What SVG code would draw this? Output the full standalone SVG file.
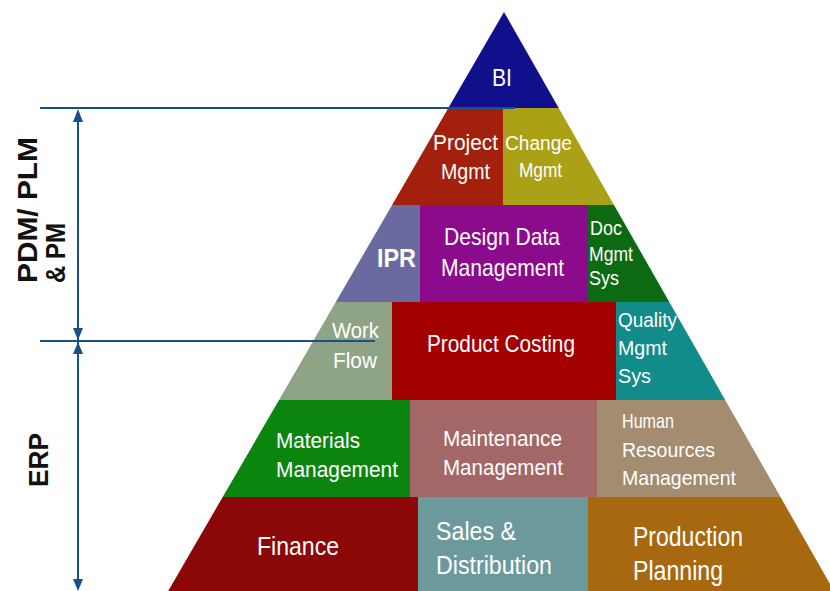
<svg xmlns="http://www.w3.org/2000/svg" width="830" height="591" viewBox="0 0 830 591">
<style>
.t{font-family:"Liberation Sans Narrow","Liberation Sans",Arial,sans-serif;fill:#ffffff;}
.lbl{font-family:"Liberation Sans","Arial",sans-serif;font-weight:bold;fill:#111111;}
.dim{stroke:#1b4f8a;stroke-width:2;fill:none;}
.ah{fill:#1b4f8a;}
</style>
<rect width="830" height="591" fill="#ffffff"/>
<g id="bi"><polygon points="504,12 558.7,108 448.3,108" fill="#10108c"/><text class="t" x="492" y="86" font-size="23" textLength="20" lengthAdjust="spacingAndGlyphs">BI</text></g>
<g id="project-mgmt"><polygon points="448.3,108 503,108 503,205 392.1,205" fill="#a3200c"/><text class="t" font-size="22"><tspan x="433" y="150" textLength="65" lengthAdjust="spacingAndGlyphs">Project</tspan><tspan x="441" y="179" textLength="49" lengthAdjust="spacingAndGlyphs">Mgmt</tspan></text></g>
<g id="change-mgmt"><polygon points="503,108 558.7,108 614,205 503,205" fill="#aba116"/><text class="t" font-size="20"><tspan x="505" y="150" textLength="67" lengthAdjust="spacingAndGlyphs">Change</tspan><tspan x="519" y="177" textLength="43" lengthAdjust="spacingAndGlyphs">Mgmt</tspan></text></g>
<g id="ipr"><polygon points="392.1,205 420,205 420,302 335.8,302" fill="#6a6aa0"/><text class="t" x="377" y="267" font-size="26" font-weight="bold" textLength="39" lengthAdjust="spacingAndGlyphs">IPR</text></g>
<g id="design-data"><rect x="420" y="205" width="168" height="97" fill="#8c0a8c"/><text class="t" font-size="24"><tspan x="444" y="245" textLength="116" lengthAdjust="spacingAndGlyphs">Design Data</tspan><tspan x="441" y="276" textLength="123" lengthAdjust="spacingAndGlyphs">Management</tspan></text></g>
<g id="doc-mgmt"><polygon points="588,205 614,205 669.3,302 588,302" fill="#0b6a12"/><text class="t" font-size="21"><tspan x="590" y="235" textLength="32" lengthAdjust="spacingAndGlyphs">Doc</tspan><tspan x="589" y="261" textLength="44" lengthAdjust="spacingAndGlyphs">Mgmt</tspan><tspan x="589" y="285" textLength="30" lengthAdjust="spacingAndGlyphs">Sys</tspan></text></g>
<g id="work-flow"><polygon points="335.8,302 392,302 392,400 279,400" fill="#8fa386"/><text class="t" font-size="22"><tspan x="332" y="338" textLength="47" lengthAdjust="spacingAndGlyphs">Work</tspan><tspan x="333" y="368" textLength="44" lengthAdjust="spacingAndGlyphs">Flow</tspan></text></g>
<g id="product-costing"><rect x="392" y="302" width="224" height="98" fill="#a30000"/><text class="t" x="427" y="352" font-size="24" textLength="148" lengthAdjust="spacingAndGlyphs">Product Costing</text></g>
<g id="quality-mgmt"><polygon points="616,302 669.3,302 725.2,400 616,400" fill="#128b8b"/><text class="t" font-size="21"><tspan x="618" y="327" textLength="59" lengthAdjust="spacingAndGlyphs">Quality</tspan><tspan x="618" y="355" textLength="49" lengthAdjust="spacingAndGlyphs">Mgmt</tspan><tspan x="618" y="383" textLength="33" lengthAdjust="spacingAndGlyphs">Sys</tspan></text></g>
<g id="materials"><polygon points="279,400 410,400 410,497 222.7,497" fill="#0c850f"/><text class="t" font-size="22"><tspan x="276" y="448" textLength="84" lengthAdjust="spacingAndGlyphs">Materials</tspan><tspan x="276" y="477" textLength="122" lengthAdjust="spacingAndGlyphs">Management</tspan></text></g>
<g id="maintenance"><rect x="410" y="400" width="187" height="97" fill="#a36767"/><text class="t" font-size="22"><tspan x="443" y="446" textLength="119" lengthAdjust="spacingAndGlyphs">Maintenance</tspan><tspan x="443" y="475" textLength="120" lengthAdjust="spacingAndGlyphs">Management</tspan></text></g>
<g id="human-resources"><polygon points="597,400 725.2,400 780.5,497 597,497" fill="#a38c6f"/><text class="t" font-size="21"><tspan x="622" y="428" textLength="52" lengthAdjust="spacingAndGlyphs">Human</tspan><tspan x="622" y="457" textLength="93" lengthAdjust="spacingAndGlyphs">Resources</tspan><tspan x="622" y="485" textLength="114" lengthAdjust="spacingAndGlyphs">Management</tspan></text></g>
<g id="finance"><polygon points="222.7,497 418,497 418,591 168.2,591" fill="#8c0808"/><text class="t" x="257" y="555" font-size="25" textLength="82" lengthAdjust="spacingAndGlyphs">Finance</text></g>
<g id="sales"><rect x="418" y="497" width="170" height="94" fill="#6c9a9c"/><text class="t" font-size="25"><tspan x="436" y="540" textLength="80" lengthAdjust="spacingAndGlyphs">Sales &amp;</tspan><tspan x="436" y="574" textLength="116" lengthAdjust="spacingAndGlyphs">Distribution</tspan></text></g>
<g id="production"><polygon points="588,497 780.5,497 834,591 588,591" fill="#a8680f"/><text class="t" font-size="27"><tspan x="633" y="546" textLength="110" lengthAdjust="spacingAndGlyphs">Production</tspan><tspan x="633" y="580" textLength="90" lengthAdjust="spacingAndGlyphs">Planning</tspan></text></g>
<g id="connectors">
<line class="dim" x1="40" y1="108" x2="515" y2="108"/>
<line class="dim" x1="40" y1="341" x2="375" y2="341"/>
<line class="dim" x1="78" y1="112" x2="78" y2="588"/>
<polygon class="ah" points="78,109 73,122 83,122"/>
<polygon class="ah" points="78,340 73,328 83,328"/>
<polygon class="ah" points="78,342 73,354 83,354"/>
<polygon class="ah" points="78,591 73,579 83,579"/>
</g>
<g id="labels">
<text class="lbl" font-size="28" transform="translate(37,283) rotate(-90)" textLength="146" lengthAdjust="spacingAndGlyphs">PDM/ PLM</text>
<text class="lbl" font-size="28" transform="translate(65,283) rotate(-90)" textLength="60" lengthAdjust="spacingAndGlyphs">&amp; PM</text>
<text class="lbl" font-size="27" transform="translate(48,487) rotate(-90)" textLength="54" lengthAdjust="spacingAndGlyphs">ERP</text>
</g>
</svg>
